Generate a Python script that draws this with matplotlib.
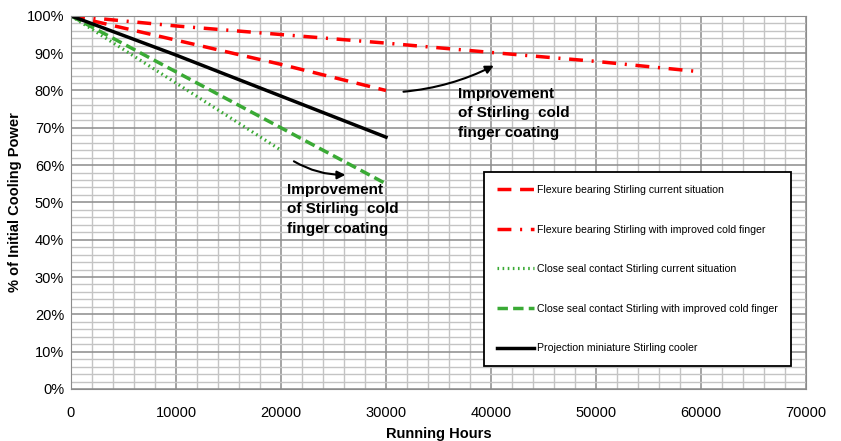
import numpy as np
import matplotlib
matplotlib.use("Agg")
import matplotlib.pyplot as plt
from matplotlib.ticker import MultipleLocator, PercentFormatter

plt.rcParams["font.family"] = ["Liberation Sans", "DejaVu Sans"]

# data
hours_30k = [0, 10000, 20000, 30000]
flexure_current = [100, 93.5, 87, 80]
black_cooler = [100, 89.5, 78.5, 67.5]
seal_improved = [100, 85, 70, 55]

hours_20k = [0, 10000, 20000]
seal_current = [100, 82, 64]

hours_60k = [0, 10000, 20000, 30000, 40000, 50000, 60000]
flexure_improved = [100, 97.3, 95, 92.7, 90.2, 87.8, 85]

labels = [
    "Flexure bearing Stirling current situation",
    "Flexure bearing Stirling with improved cold finger",
    "Close seal contact Stirling current situation",
    "Close seal contact Stirling with improved cold finger",
    "Projection miniature Stirling cooler",
]
note = "Improvement\nof Stirling  cold\nfinger coating"

fig = plt.figure(figsize=(8.41, 4.41), dpi=100)
ax = fig.add_axes([0.0844, 0.118, 0.874, 0.846])

red = "#ff0000"
green = "#3aaa35"

l1, = ax.plot(hours_30k, flexure_current, color=red, lw=2.5, dashes=(4, 2.5))
l2, = ax.plot(hours_60k, flexure_improved, color=red, lw=2.5, dashes=(4, 2.5, 0.6, 2.5))
l3, = ax.plot(hours_20k, seal_current, color=green, lw=2.3, dashes=(0.5, 1.1))
l4, = ax.plot(hours_30k, seal_improved, color=green, lw=2.5, dashes=(3, 1.5))
l5, = ax.plot(hours_30k, black_cooler, color="black", lw=2.5)

ax.set_xlim(0, 70000)
ax.set_ylim(0, 100)
ax.xaxis.set_major_locator(MultipleLocator(10000))
ax.xaxis.set_minor_locator(MultipleLocator(2000))
ax.yaxis.set_major_locator(MultipleLocator(10))
ax.yaxis.set_minor_locator(MultipleLocator(2))
ax.yaxis.set_major_formatter(PercentFormatter(decimals=0))
ax.grid(which="major", color="#8c8c8c", lw=1.1)
ax.grid(which="minor", color="#c4c4c4", lw=1.0)
ax.set_axisbelow(True)
ax.tick_params(which="both", length=0, labelsize=10.5, pad=5)
ax.tick_params(axis="x", pad=12)
for s in ax.spines.values():
    s.set_color("#8c8c8c")

ax.set_ylabel("% of Initial Cooling Power", fontsize=10.5, fontweight="bold", labelpad=3)
ax.set_xlabel("Running Hours", fontsize=10.5, fontweight="bold", labelpad=5)

ax.annotate("", xy=(40500, 87), xytext=(31400, 79.6),
            arrowprops=dict(arrowstyle="-|>", color="black", lw=1.5,
                            connectionstyle="arc3,rad=0.1", mutation_scale=12))
ax.text(36900, 81, note, fontsize=11, fontweight="bold", va="top", ha="left",
        linespacing=1.5)

ax.annotate("", xy=(26400, 57.4), xytext=(21000, 61.4),
            arrowprops=dict(arrowstyle="-|>", color="black", lw=1.5,
                            connectionstyle="arc3,rad=0.15", mutation_scale=12))
ax.text(20600, 55.3, note, fontsize=11, fontweight="bold", va="top", ha="left",
        linespacing=1.5)

leg = ax.legend([l1, l2, l3, l4, l5], labels, loc="upper left",
                bbox_to_anchor=(0.562, 0.582), fontsize=7.6, frameon=True,
                fancybox=False, framealpha=1, edgecolor="black",
                labelspacing=2.8, handlelength=3.5, handletextpad=0.3,
                borderpad=1.25, borderaxespad=0)
leg.get_frame().set_linewidth(1.3)

fig.savefig("out.png", dpi=100)
